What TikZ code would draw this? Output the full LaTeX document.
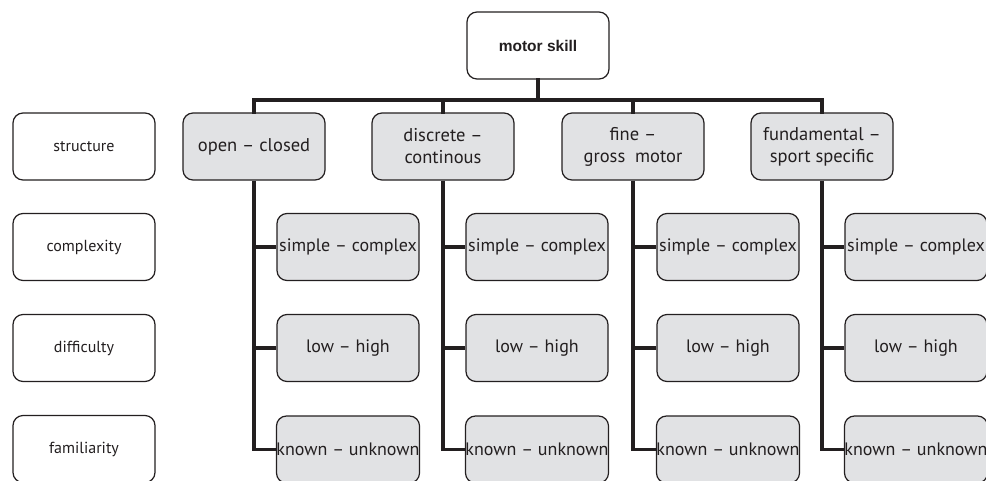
\documentclass[tikz,border=0pt]{standalone}
\usepackage{fontspec}
\setmainfont{PT Sans}
\newfontfamily\topfont{Liberation Sans}
\definecolor{boxgray}{HTML}{E1E2E4}
\definecolor{ink}{HTML}{231F20}
\begin{document}
\begin{tikzpicture}[x=1pt,y=-1pt,
  base/.style={draw=ink, line width=1.2pt, rounded corners=10pt, rectangle,
    minimum width=142pt, minimum height=67pt, inner sep=0pt, align=center,
    text=ink},
  lbox/.style={base, fill=white, font=\fontsize{16}{19}\selectfont},
  cbox/.style={base, fill=boxgray, font=\fontsize{18.5}{22}\selectfont},
  sbox/.style={base, fill=boxgray, font=\fontsize{18}{22}\selectfont},
  tbox/.style={base, fill=white, font=\topfont\bfseries\fontsize{15.5}{18}\selectfont},
  conn/.style={draw=ink, line width=3.6pt, line join=miter, line cap=rect}]
\useasboundingbox (0,0) rectangle (986,480);
\clip (0,0) rectangle (986,480);
% top
\node[tbox] (motor) at (538,45.5) {motor skill};
\coordinate (bar) at (0,100);
% left column
\node[lbox] (L1) at (84,146.5) {structure};
\node[lbox] (L2) at (84,247) {complexity};
\node[lbox] (L3) at (84,348) {difficulty};
\node[lbox] (L4) at (84,449) {familiarity};
% category boxes
\node[cbox] (c1) at (254,146.5) {open -- closed};
\node[cbox] (c2) at (443,146.5) {discrete --\\continous};
\node[cbox] (c3) at (633,146.5) {fine --\\gross\ \ motor};
\node[cbox] (c4) at (822,146.5) {fundamental --\\sport specific};
% connectors top
\draw[conn] (motor.south) -- (motor.south |- bar);
\draw[conn] (c1.north) -- (c1.north |- bar) -- (c4.north |- bar) -- (c4.north);
\draw[conn] (c2.north) -- (c2.north |- bar);
\draw[conn] (c3.north) -- (c3.north |- bar);
% sub boxes
\foreach \i/\cx in {1/348,2/537,3/728,4/916}{
  \node[sbox] (s\i) at (\cx,247) {simple -- complex};
  \node[sbox] (l\i) at (\cx,348) {low -- high};
  \node[sbox] (k\i) at (\cx,449.5) {known -- unknown};
}
\foreach \i in {1,2,3,4}{
  \draw[conn, line cap=butt] (c\i.south) -- (c\i.south |- k\i.west) -- (k\i.west);
  \draw[conn, line cap=butt] (c\i.south |- s\i.west) -- (s\i.west);
  \draw[conn, line cap=butt] (c\i.south |- l\i.west) -- (l\i.west);
}
\end{tikzpicture}
\end{document}
